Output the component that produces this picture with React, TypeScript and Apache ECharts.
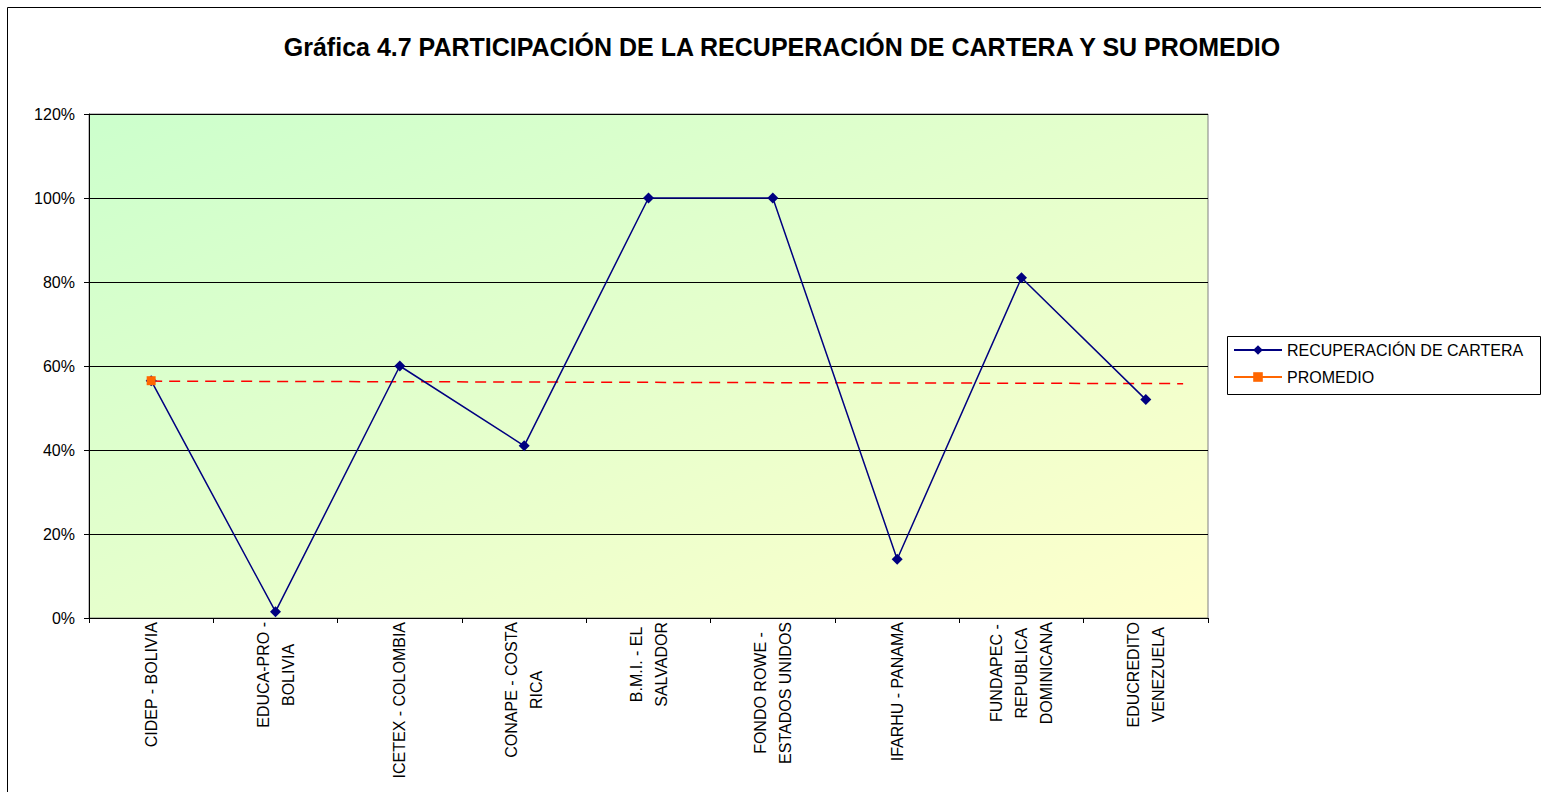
import React, { useEffect, useRef } from "react";
import * as echarts from "echarts";

const titleText = "Gráfica 4.7 PARTICIPACIÓN DE LA RECUPERACIÓN DE CARTERA Y SU PROMEDIO";
const categories = [
  "CIDEP - BOLIVIA",
  "EDUCA-PRO -\nBOLIVIA",
  "ICETEX - COLOMBIA",
  "CONAPE - COSTA\nRICA",
  "B.M.I. - EL\nSALVADOR",
  "FONDO ROWE -\nESTADOS UNIDOS",
  "IFARHU - PANAMA",
  "FUNDAPEC -\nREPUBLICA\nDOMINICANA",
  "EDUCREDITO\nVENEZUELA",
];
const recuperacion = [56.5, 1.5, 60, 41, 100, 100, 14, 81, 52];
const promedio = [56.5, null, null, null, null, null, null, null, null];
const trendX = [0.5, 8.8];
const trendY = [56.4, 55.8];
const yTicks = { min: 0, max: 120, interval: 20 };

const FONT = "'Liberation Sans', Arial, sans-serif";

export default function App() {
  const ref = useRef<HTMLDivElement>(null);
  useEffect(() => {
    const chart = echarts.init(ref.current!, null, { renderer: "svg" });
    chart.setOption({
      animation: false,
      backgroundColor: "#ffffff",
      textStyle: { fontFamily: FONT },
      title: {
        text: titleText,
        left: 777,
        textAlign: "center",
        top: 29,
        textStyle: { fontSize: 25, fontWeight: "bold", color: "#000", fontFamily: FONT },
      },
      graphic: [
        {
          type: "rect",
          shape: { x: 7.5, y: 7.5, width: 1540, height: 790 },
          style: { fill: "none", stroke: "#000", lineWidth: 1 },
          silent: true,
          z: -1,
        },
        {
          type: "rect",
          shape: { x: 1227.5, y: 336.5, width: 313, height: 58 },
          style: { fill: "#fff", stroke: "#000", lineWidth: 1 },
          silent: true,
          z: -1,
        },
      ],
      legend: {
        orient: "vertical",
        left: 1227,
        top: 336,
        padding: [6, 8, 5, 6],
        itemWidth: 48,
        itemHeight: 12,
        itemGap: 11,
        data: ["RECUPERACIÓN DE CARTERA", "PROMEDIO"],
        textStyle: { fontSize: 16, color: "#000", fontFamily: FONT },
      },
      grid: {
        left: 89,
        top: 114,
        width: 1119,
        height: 504,
        show: true,
        borderColor: "#808080",
        borderWidth: 1,
        backgroundColor: new echarts.graphic.LinearGradient(0, 0, 1, 1, [
          { offset: 0, color: "#ccffcc" },
          { offset: 1, color: "#ffffcc" },
        ]),
      },
      xAxis: [
        {
          type: "category",
          data: categories,
          boundaryGap: true,
          axisLine: { lineStyle: { color: "#000", width: 1 } },
          axisTick: { show: true, length: 5, inside: false, lineStyle: { color: "#000" } },
          axisLabel: {
            interval: 0,
            rotate: 90,
            margin: 4,
            color: "#000",
            fontSize: 16,
            fontFamily: FONT,
            lineHeight: 25,
            formatter: (v: string) =>
              v
                .split("\n")
                .map((s) => "{c|" + s + "}")
                .join("\n"),
            rich: {
              c: { align: "center", fontSize: 16, fontFamily: FONT, color: "#000", lineHeight: 25 },
            },
          },
          splitLine: { show: false },
        },
        {
          type: "value",
          min: 0,
          max: 9,
          show: false,
          gridIndex: 0,
        },
      ],
      yAxis: {
        type: "value",
        min: yTicks.min,
        max: yTicks.max,
        interval: yTicks.interval,
        axisLine: { show: true, lineStyle: { color: "#000", width: 1 } },
        axisTick: { show: true, length: 5, lineStyle: { color: "#000" } },
        axisLabel: { formatter: "{value}%", color: "#000", fontSize: 16, margin: 14, fontFamily: FONT },
        splitLine: { show: true, lineStyle: { color: "#000", width: 1 } },
      },
      series: [
        {
          name: "RECUPERACIÓN DE CARTERA",
          type: "line",
          data: recuperacion,
          xAxisIndex: 0,
          symbol: "diamond",
          symbolSize: 11,
          lineStyle: { color: "#000080", width: 1.5 },
          itemStyle: { color: "#000080" },
          z: 3,
        },
        {
          name: "PROMEDIO",
          type: "line",
          data: promedio,
          xAxisIndex: 0,
          symbol: "rect",
          symbolSize: 9,
          lineStyle: { color: "#ff6600", width: 1.5 },
          itemStyle: { color: "#ff6600" },
          z: 4,
        },
        {
          name: "Tendencia",
          type: "line",
          xAxisIndex: 1,
          data: trendX.map((x, i) => [x, trendY[i]]),
          symbol: "none",
          lineStyle: { color: "#ff0000", width: 1.5, type: [11, 7] },
          z: 2,
        },
      ],
    });
    return () => chart.dispose();
  }, []);
  return (
    <div
      ref={ref}
      style={{ position: "fixed", left: 0, top: 0, width: 1541, height: 792 }}
    />
  );
}
